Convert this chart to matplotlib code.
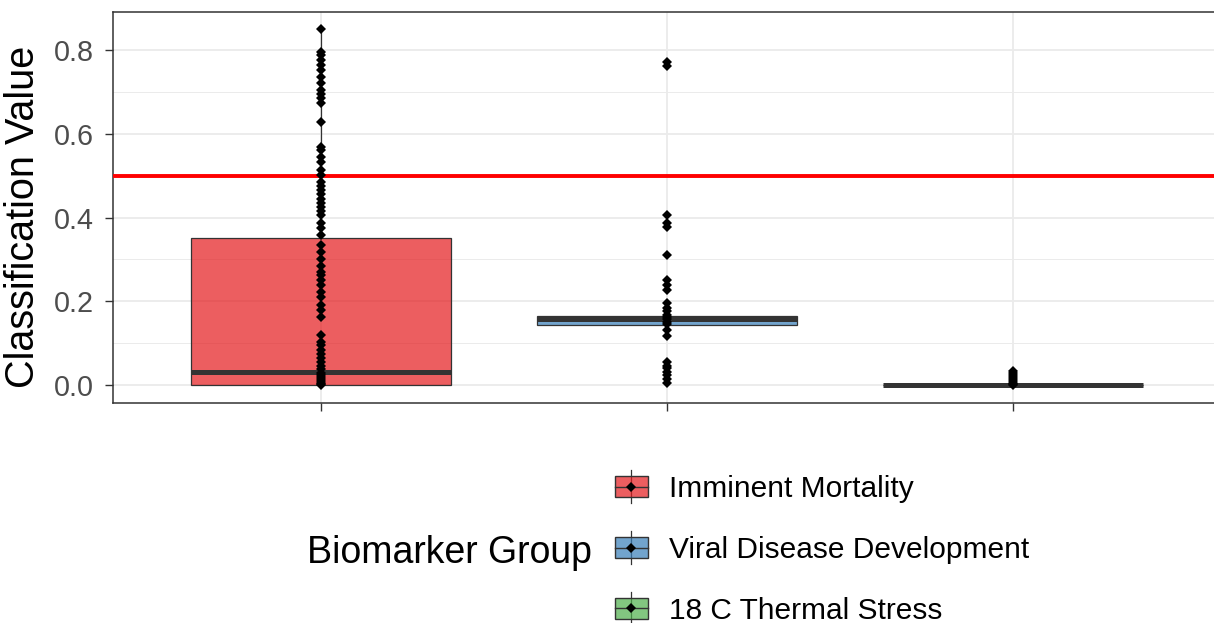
import matplotlib.pyplot as plt
from matplotlib.legend_handler import HandlerBase
from matplotlib.patches import Patch, Rectangle
from matplotlib.lines import Line2D
from matplotlib.colors import to_rgba

# groups, colours and legend labels
groups = ["Imminent Mortality", "Viral Disease Development", "18 C Thermal Stress"]
colors = ["#E41A1C", "#377EB8", "#4DAF4A"]

# individual classification values per group
imminent = [0.849, 0.796, 0.788, 0.776, 0.764, 0.752, 0.736, 0.720, 0.704, 0.695,
            0.685, 0.673, 0.629, 0.569, 0.561, 0.545, 0.533, 0.513, 0.501, 0.485,
            0.475, 0.465, 0.455, 0.445, 0.435, 0.425, 0.415, 0.405, 0.387, 0.375,
            0.358, 0.334, 0.318, 0.300, 0.285, 0.271, 0.263, 0.251, 0.240, 0.223,
            0.211, 0.191, 0.180, 0.163, 0.119, 0.103, 0.095, 0.085, 0.075, 0.065,
            0.056, 0.045, 0.038, 0.030, 0.025, 0.020, 0.015, 0.010, 0.005, 0.002, 0.0]
viral = [0.772, 0.762, 0.406, 0.388, 0.378, 0.310, 0.251, 0.238, 0.226, 0.196,
         0.185, 0.176, 0.168, 0.163, 0.158, 0.152, 0.145, 0.131, 0.118, 0.055,
         0.047, 0.040, 0.032, 0.024, 0.015, 0.006]
thermal = [0.035, 0.030, 0.025, 0.020, 0.015, 0.010, 0.005, 0.002, 0.0]
values = [imminent, viral, thermal]

# box summaries (lower hinge, median, upper hinge, whisker ends)
q1 = [0.0, 0.143, 0.0]
med = [0.031, 0.159, 0.0]
q3 = [0.352, 0.166, 0.0]
whislo = [0.0, 0.118, 0.0]
whishi = [0.849, 0.196, 0.0]

threshold = 0.5

plt.rcParams['font.family'] = ['Liberation Sans', 'DejaVu Sans']

fig = plt.figure(figsize=(12.14, 6.23), dpi=100)
ax = fig.add_axes([0.0931, 0.3531, 0.9127, 0.6284])

pos = [1, 2, 3]
stats = [dict(q1=q1[i], med=med[i], q3=q3[i], whislo=whislo[i], whishi=whishi[i],
              fliers=[], label=groups[i]) for i in range(3)]
bp = ax.bxp(stats, positions=pos, widths=0.75, patch_artist=True, showcaps=False,
            showfliers=False,
            boxprops=dict(edgecolor="#333333", linewidth=0.9),
            whiskerprops=dict(color="#333333", linewidth=0.9),
            medianprops=dict(color="#333333", linewidth=3.6, solid_capstyle="butt"),
            zorder=3)
for patch, c in zip(bp["boxes"], colors):
    patch.set_facecolor(to_rgba(c, 0.7))

for p, v in zip(pos, values):
    ax.plot([p] * len(v), v, linestyle="none", marker="D", ms=5.2, mew=0,
            color="black", zorder=5)

ax.axhline(threshold, color="red", linewidth=2.8, zorder=4)

# ggplot-style limits with 5% / 0.6 expansion
lo = min(min(v) for v in values)
hi = max(max(v) for v in values)
padd = 0.05 * (hi - lo)
ax.set_ylim(lo - padd, hi + padd)
ax.set_xlim(0.4, 3.6)

ax.set_yticks([0.0, 0.2, 0.4, 0.6, 0.8])
ax.set_yticks([0.1, 0.3, 0.5, 0.7], minor=True)
ax.set_xticks(pos)
ax.set_xticklabels([])
ax.grid(True, which="major", color="#EBEBEB", linewidth=1.3, zorder=0)
ax.grid(True, which="minor", axis="y", color="#EBEBEB", linewidth=0.7, zorder=0)
ax.set_axisbelow(True)
ax.tick_params(axis="both", which="major", length=5.8, width=1.0, color="#333333",
               labelsize=20.7, labelcolor="#4D4D4D", pad=8)
ax.tick_params(axis="y", which="minor", length=0)
for s in ax.spines.values():
    s.set_color("#333333")
    s.set_linewidth(1.1)

ax.set_ylabel("Classification Value", fontsize=28.5, color="black")
ax.yaxis.set_label_coords(-0.064, 0.475)


class BoxKey(HandlerBase):
    def create_artists(self, legend, orig_handle, xdescent, ydescent,
                       width, height, fontsize, trans):
        x0, y0 = -xdescent, -ydescent
        xc, yc = x0 + width / 2, y0 + height / 2
        ext = 0.3 * height
        whisk = Line2D([xc, xc], [y0 - ext, y0 + height + ext], color="#333333",
                       linewidth=0.9, transform=trans)
        box = Rectangle((x0, y0), width, height, facecolor=orig_handle.get_facecolor(),
                        edgecolor="#333333", linewidth=1.0, transform=trans)
        mid = Line2D([x0, x0 + width], [yc, yc], color="#333333", linewidth=1.0,
                     transform=trans)
        dot = Line2D([xc], [yc], marker="D", ms=5.2, mew=0, color="black",
                     linestyle="none", transform=trans)
        return [whisk, box, mid, dot]


handles = [Patch(facecolor=to_rgba(c, 0.7)) for c in colors]
fig.legend(handles, groups, handler_map={Patch: BoxKey()},
           loc="center left", bbox_to_anchor=(615 / 1214, 1 - 550 / 623),
           frameon=False, fontsize=21.5, handlelength=1.1, handleheight=0.68,
           handletextpad=0.72, labelspacing=1.1, borderpad=0, borderaxespad=0)
fig.text(307 / 1214, 1 - 553 / 623, "Biomarker Group", fontsize=27,
         ha="left", va="center")

fig.savefig("out.png", dpi=100)
